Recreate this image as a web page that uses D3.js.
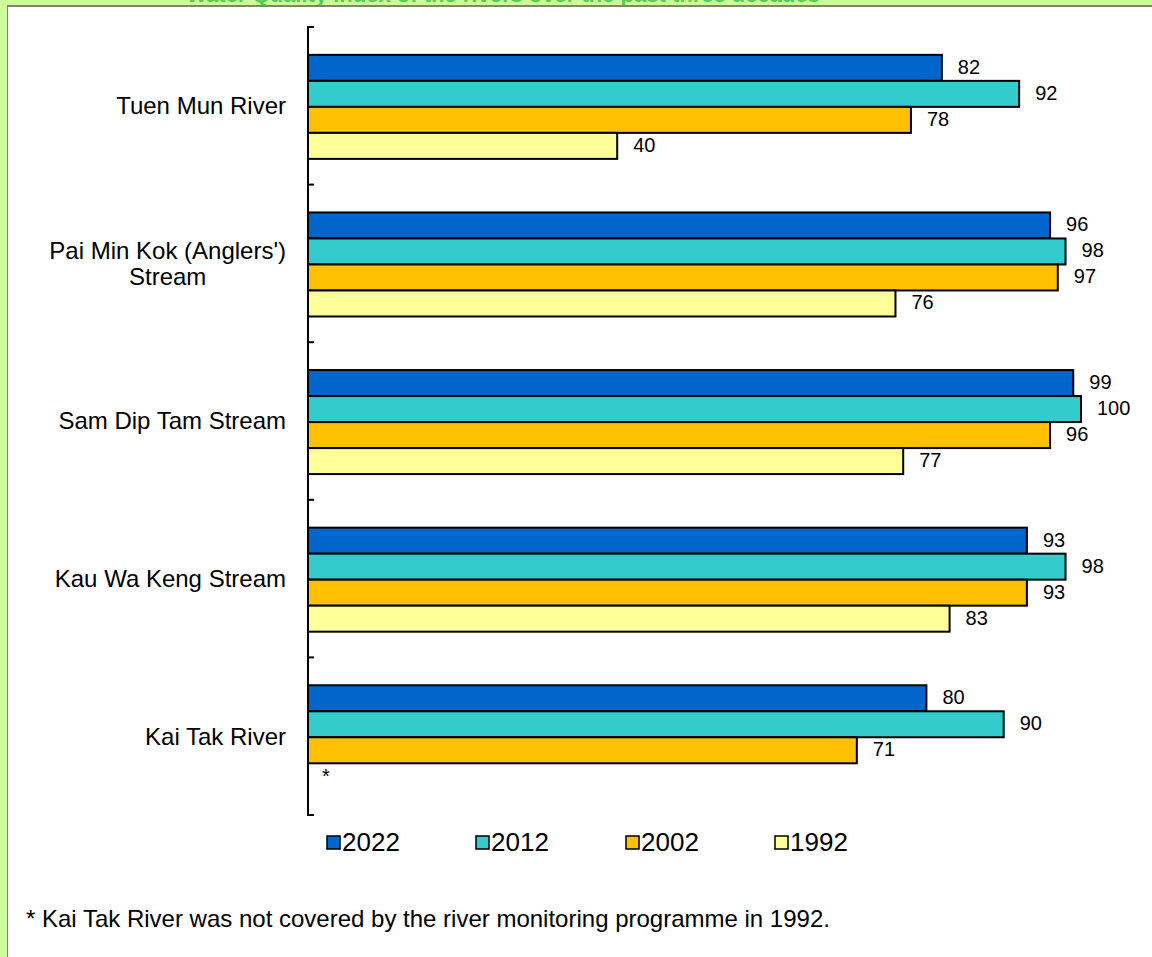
<!DOCTYPE html>
<html>
<head>
<meta charset="utf-8">
<script src="https://cdn.jsdelivr.net/npm/d3@7"></script>
<style>
  html, body { margin: 0; padding: 0; background: #ccff99; }
  svg { display: block; font-family: Arial, "Liberation Sans", sans-serif; }
</style>
</head>
<body>
<svg id="chart" width="1152" height="957"></svg>
<script>
// Rivers (top to bottom) and series values per year
const rivers = ["Tuen Mun River", "Pai Min Kok (Anglers')\nStream", "Sam Dip Tam Stream", "Kau Wa Keng Stream", "Kai Tak River"];
const years = ["2022", "2012", "2002", "1992"];
const values2022 = [82, 96, 99, 93, 80];
const values2012 = [92, 98, 100, 98, 90];
const values2002 = [78, 97, 96, 93, 71];
const values1992 = [40, 76, 77, 83, null]; // Kai Tak River not monitored in 1992
const colors = ["#0066cc", "#33cccc", "#ffc000", "#ffff99"];
const titleText = "Water Quality Index of the rivers over the past three decades";
const footnote = "* Kai Tak River was not covered by the river monitoring programme in 1992.";

const seriesValues = [values2022, values2012, values2002, values1992];

const svg = d3.select("#chart");

// Page frame: green surround, grey edge, white panel
svg.append("rect").attr("x", 0).attr("y", 0).attr("width", 1152).attr("height", 957).attr("fill", "#ccff99");
svg.append("text")
  .attr("x", 503).attr("y", 2)
  .attr("text-anchor", "middle")
  .attr("font-size", 22).attr("font-weight", "bold")
  .attr("fill", "#55cc55")
  .text(titleText);
svg.append("rect").attr("x", 7).attr("y", 5).attr("width", 1145).attr("height", 952).attr("fill", "#808080");
svg.append("rect").attr("x", 8).attr("y", 7).attr("width", 1144).attr("height", 950).attr("fill", "#ffffff");

const plotLeft = 308, plotTop = 27, plotBottom = 815;

const x = d3.scaleLinear().domain([0, 100]).range([plotLeft, 1081]);
const y = d3.scaleBand().domain(d3.range(rivers.length)).range([plotTop, plotBottom]).paddingInner(0).paddingOuter(0);
const inner = d3.scaleBand().domain(d3.range(years.length)).range([0, y.bandwidth()])
  .paddingInner(0).paddingOuter(1.03).align(0.52);

// Bars
const barData = [];
rivers.forEach((r, i) => {
  years.forEach((yr, j) => {
    barData.push({ river: i, series: j, value: seriesValues[j][i] });
  });
});

const g = svg.append("g");
g.selectAll("rect.bar")
  .data(barData.filter(d => d.value != null))
  .join("rect")
  .attr("class", "bar")
  .attr("x", x(0))
  .attr("y", d => y(d.river) + inner(d.series))
  .attr("width", d => x(d.value) - x(0))
  .attr("height", inner.bandwidth())
  .attr("fill", d => colors[d.series])
  .attr("stroke", "#000")
  .attr("stroke-width", 2);

// Value labels
g.selectAll("text.val")
  .data(barData.filter(d => d.value != null))
  .join("text")
  .attr("class", "val")
  .attr("x", d => x(d.value) + 16)
  .attr("y", d => y(d.river) + inner(d.series) + inner.bandwidth() / 2 - 1)
  .attr("dy", "0.35em")
  .attr("font-size", 20)
  .attr("fill", "#000")
  .text(d => d.value);

// Marker for the missing value
g.selectAll("text.missing")
  .data(barData.filter(d => d.value == null))
  .join("text")
  .attr("class", "missing")
  .attr("x", x(0) + 18)
  .attr("y", d => y(d.river) + inner(d.series) + inner.bandwidth() / 2)
  .attr("dy", "0.35em")
  .attr("text-anchor", "middle")
  .attr("font-size", 20)
  .text("*");

// Category axis: ticks at band boundaries pointing into the plot
const axisG = svg.append("g");
axisG.append("line")
  .attr("x1", plotLeft).attr("x2", plotLeft)
  .attr("y1", plotTop).attr("y2", plotBottom)
  .attr("stroke", "#000").attr("stroke-width", 2);
const tickPos = d3.range(rivers.length + 1).map(i => i < rivers.length ? y(i) : plotBottom);
axisG.selectAll("line.tick")
  .data(tickPos)
  .join("line")
  .attr("class", "tick")
  .attr("x1", plotLeft - 1).attr("x2", plotLeft + 6)
  .attr("y1", d => d).attr("y2", d => d)
  .attr("stroke", "#000").attr("stroke-width", 2);

// Category labels (multi-line labels centred within a right-aligned block)
rivers.forEach((r, i) => {
  const lines = r.split("\n");
  const cy = y(i) + y.bandwidth() / 2;
  const lineH = 26;
  const t = svg.append("text")
    .attr("font-size", 24)
    .attr("fill", "#000");
  lines.forEach((ln, k) => {
    t.append("tspan")
      .attr("x", 286)
      .attr("y", cy + (k - (lines.length - 1) / 2) * lineH)
      .attr("dy", "0.35em")
      .text(ln);
  });
  if (lines.length > 1) {
    const w = t.node().getBBox().width;
    t.attr("text-anchor", "middle").selectAll("tspan").attr("x", 286 - w / 2);
  } else {
    t.attr("text-anchor", "end");
  }
});

// Legend
const legend = svg.append("g");
const legX = [327, 476, 626, 775];
years.forEach((yr, j) => {
  legend.append("rect")
    .attr("x", legX[j]).attr("y", 836)
    .attr("width", 13).attr("height", 13)
    .attr("fill", colors[j])
    .attr("stroke", "#000").attr("stroke-width", 1.5);
  legend.append("text")
    .attr("x", legX[j] + 15).attr("y", 842)
    .attr("dy", "0.35em")
    .attr("font-size", 26)
    .text(yr);
});

// Footnote
svg.append("text")
  .attr("x", 26).attr("y", 919)
  .attr("dy", "0.35em")
  .attr("font-size", 24)
  .text(footnote);
</script>
</body>
</html>
